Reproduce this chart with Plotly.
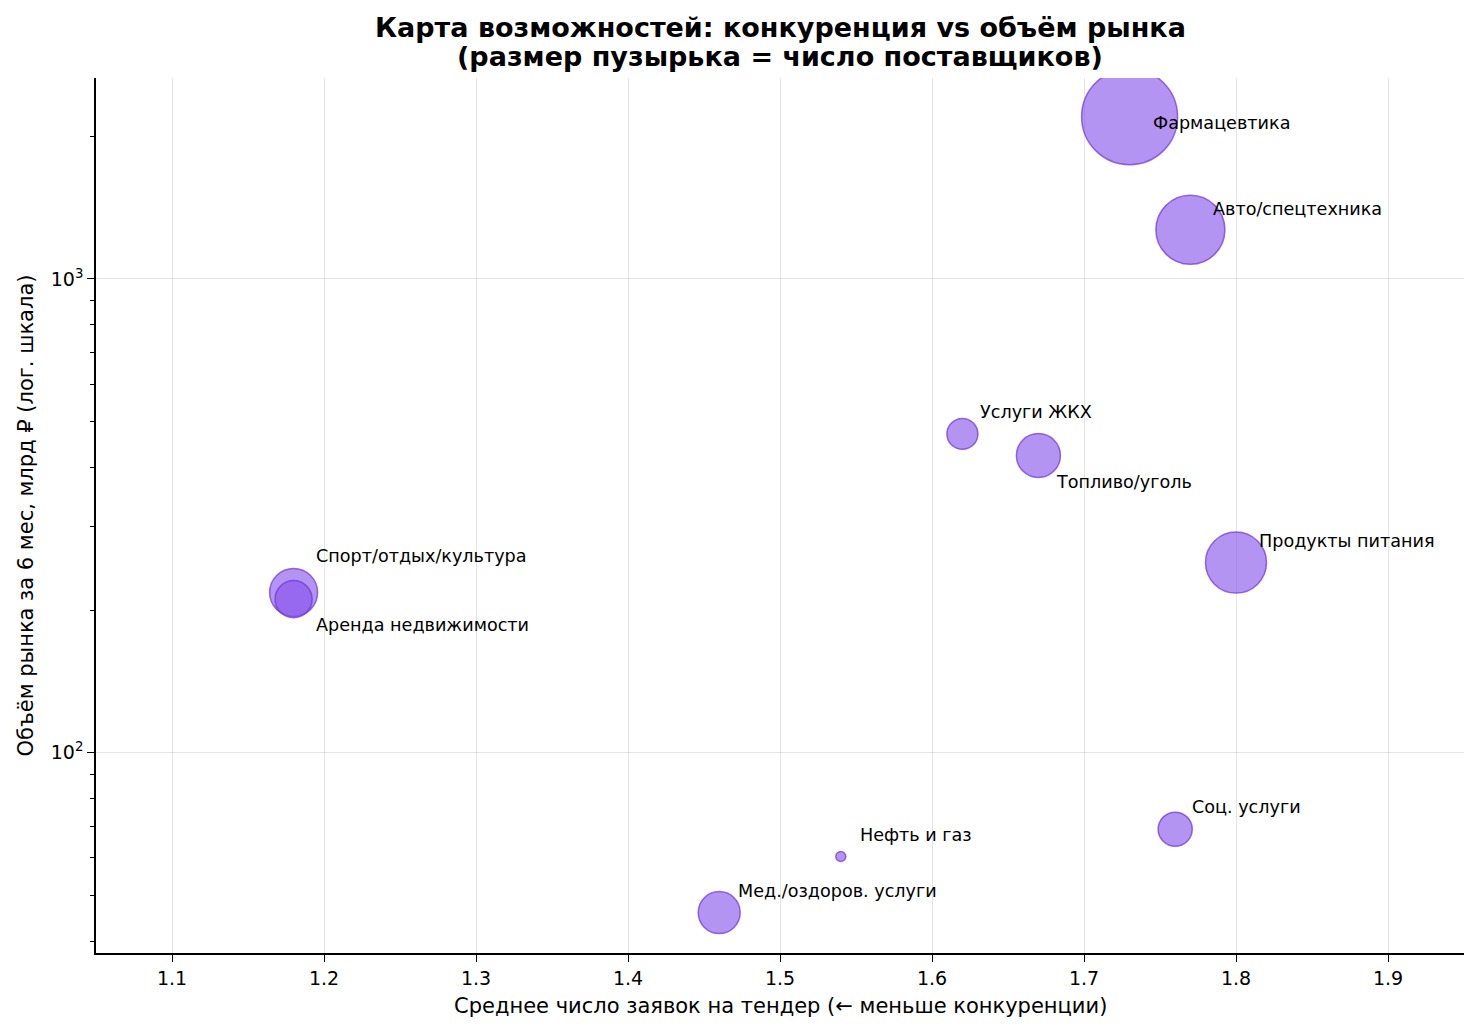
import numpy as np
import plotly.graph_objects as go

categories = ["Фармацевтика", "Авто/спецтехника", "Услуги ЖКХ", "Топливо/уголь",
              "Продукты питания", "Спорт/отдых/культура", "Аренда недвижимости",
              "Соц. услуги", "Нефть и газ", "Мед./оздоров. услуги"]
avg_bids = [1.73, 1.77, 1.62, 1.67, 1.80, 1.18, 1.18, 1.76, 1.54, 1.46]
market_bln = [2200, 1270, 471, 424, 252, 218, 211, 69, 60.4, 46]
suppliers = [4600, 2380, 480, 970, 1860, 1150, 685, 580, 50, 880]

x_ticks = [1.1, 1.2, 1.3, 1.4, 1.5, 1.6, 1.7, 1.8, 1.9]
y_ticks = [100, 1000]
y_tick_text = ["10<sup>2</sup>", "10<sup>3</sup>"]
y_minor = [40, 50, 60, 70, 80, 90, 200, 300, 400, 500, 600, 700, 800, 900, 2000]

# label offsets in pixels (dx right, dy down)
label_offsets = {
    "Фармацевтика": (21, 6),
    "Авто/спецтехника": (21, -21),
    "Услуги ЖКХ": (16, -22),
    "Топливо/уголь": (16, 26),
    "Продукты питания": (21, -22),
    "Спорт/отдых/культура": (20, -36),
    "Аренда недвижимости": (20, 26),
    "Соц. услуги": (15, -22),
    "Нефть и газ": (17, -22),
    "Мед./оздоров. услуги": (17, -22),
}

FONT = "DejaVu Sans"
PL, PR, PT, PB = 96, 15, 78, 78
PW = 1479 - PL - PR
PH = 1031 - PT - PB

fig = go.Figure()
fig.add_trace(go.Scatter(
    x=avg_bids, y=market_bln, mode="markers",
    text=categories,
    marker=dict(size=suppliers, sizemode="area", sizeref=1.0, opacity=1,
                color="rgba(130,77,235,0.6)",
                line=dict(color="rgba(110,50,210,0.7)", width=1.5)),
    hovertemplate="%{text}<br>%{x}<br>%{y}<extra></extra>",
    showlegend=False,
))

annotations = []
for c, xv, yv in zip(categories, avg_bids, market_bln):
    dx, dy = label_offsets[c]
    annotations.append(dict(
        x=xv, y=np.log10(yv), xref="x", yref="y", text=c, showarrow=False,
        xanchor="left", yanchor="middle", xshift=dx, yshift=-dy,
        font=dict(family=FONT, size=17.6, color="black")))

annotations += [
    dict(text="<b>Карта возможностей: конкуренция vs объём рынка</b>",
         x=0.5, y=(1031 - PB - 27) / PH, xref="paper", yref="paper", showarrow=False,
         xanchor="center", yanchor="middle", font=dict(family=FONT, size=27, color="black")),
    dict(text="<b>(размер пузырька = число поставщиков)</b>",
         x=0.5, y=(1031 - PB - 57) / PH, xref="paper", yref="paper", showarrow=False,
         xanchor="center", yanchor="middle", font=dict(family=FONT, size=27, color="black")),
    dict(text="Среднее число заявок на тендер (← меньше конкуренции)",
         x=0.5, y=(1031 - PB - 1006) / PH, xref="paper", yref="paper", showarrow=False,
         xanchor="center", yanchor="middle", font=dict(family=FONT, size=21, color="black")),
    dict(text="Объём рынка за 6 мес, млрд ₽ (лог. шкала)",
         x=(25 - PL) / PW, y=0.5, xref="paper", yref="paper", showarrow=False, textangle=-90,
         xanchor="center", yanchor="middle", font=dict(family=FONT, size=21, color="black")),
]

axis_common = dict(
    showgrid=True, gridcolor="rgba(0,0,0,0.1)", gridwidth=1.3,
    showline=True, linecolor="black", linewidth=1.5, mirror=False,
    ticks="outside", ticklen=7, tickwidth=1.3, tickcolor="black",
    zeroline=False, tickfont=dict(family=FONT, size=19, color="black"),
)

fig.update_layout(
    width=1479, height=1031,
    margin=dict(l=PL, r=PR, t=PT, b=PB),
    paper_bgcolor="white", plot_bgcolor="white",
    font=dict(family=FONT, size=19, color="black"),
    annotations=annotations,
    xaxis=dict(range=[1.05, 1.95], tickvals=x_ticks, ticktext=[str(v) for v in x_ticks],
               **axis_common),
    yaxis=dict(type="log", range=[np.log10(37.8), np.log10(2655)],
               tickvals=y_ticks, ticktext=y_tick_text,
               minor=dict(tickvals=y_minor, ticks="outside", ticklen=4, tickwidth=1,
                          tickcolor="black", showgrid=False),
               **axis_common),
)

fig.write_html("out.html")
